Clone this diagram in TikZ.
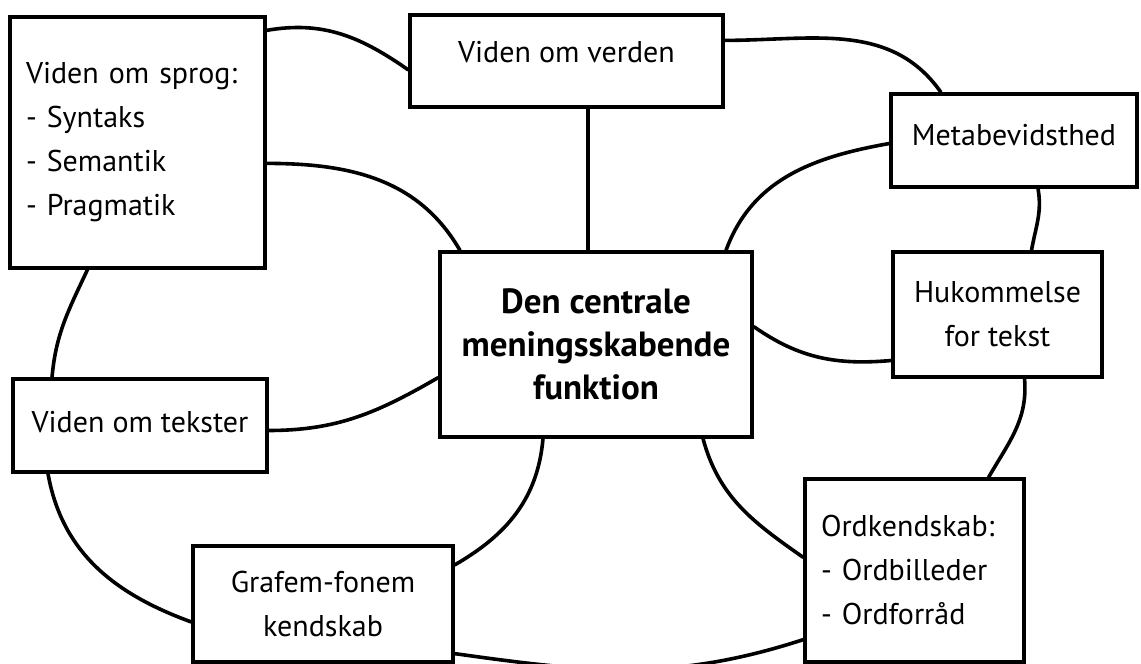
\documentclass[tikz,border=0pt]{standalone}
\usepackage{fontspec}
\setmainfont{PT Sans}
\begin{document}
\begin{tikzpicture}[x=1pt,y=1pt,
  box/.style={draw, line width=3.2pt, inner sep=0pt, font=\fontsize{30}{44}\selectfont},
  link/.style={line width=3.6pt}]
\useasboundingbox (0,0) rectangle (1141,664);

\node[box, minimum width=255, minimum height=251, text width=223pt, align=left] (sprog) at (137.5,521.5)
  {Viden om sprog:\\- Syntaks\\- Semantik\\- Pragmatik};
\node[box, minimum width=313, minimum height=92, text depth=19pt] (verden) at (566.5,603) {Viden om verden};
\node[box, minimum width=246, minimum height=93, text depth=12pt] (meta) at (1014,523.5) {Metabevidsthed};
\node[box, minimum width=209, minimum height=125, align=center] (huk) at (997.5,349.5) {Hukommelse\\for tekst};
\node[box, minimum width=312, minimum height=185, align=center, font=\bfseries\fontsize{35}{43}\selectfont] (central) at (596,319.5)
  {Den centrale\\meningsskabende\\funktion};
\node[box, minimum width=254, minimum height=93, text depth=8pt] (tekster) at (140,238.5) {Viden om tekster};
\node[box, minimum width=260, minimum height=116, align=center] (graf) at (323,60) {Grafem-fonem\\kendskab};
\node[box, minimum width=219, minimum height=183, text width=187pt, align=left] (ord) at (914.5,93.5)
  {Ordkendskab:\\- Ordbilleder\\- Ordforråd};

\draw[link] ([yshift=-15pt]sprog.north east) to[out=10,in=145] ([yshift=-9pt]verden.west);
\draw[link] ([yshift=-27pt]verden.north east) to[out=0,in=125] ([xshift=-73pt]meta.north);
\draw[link] ([xshift=24pt]meta.south) to[out=-80,in=80] ([xshift=34pt]huk.north);
\draw[link] ([xshift=27pt]huk.south) to[out=-85,in=60] ([xshift=74pt]ord.north);
\draw[link] ([yshift=24pt]ord.south west) to[out=198,in=-8] ([yshift=10pt]graf.south east);
\draw[link] ([yshift=-18pt]graf.west) to[out=160,in=-80] ([xshift=-92pt]tekster.south);
\draw[link] ([xshift=-88pt]tekster.north) to[out=85,in=-115] ([xshift=-50pt]sprog.south);

\draw[link] ([yshift=-148pt]sprog.north east) to[out=0,in=120] ([xshift=-136pt]central.north);
\draw[link] ([yshift=-3pt]meta.west) to[out=190,in=70] ([xshift=130pt]central.north);
\draw[link] ([yshift=18pt]central.east) to[out=-35,in=185] ([yshift=-46pt]huk.west);
\draw[link] ([xshift=107pt]central.south) to[out=-75,in=145] ([yshift=13pt]ord.west);
\draw[link] ([xshift=-53pt]central.south) to[out=-95,in=30] ([yshift=39pt]graf.east);
\draw[link] ([yshift=-5pt]tekster.east) to[out=0,in=210] ([yshift=-33pt]central.west);
\draw[link] ([xshift=-8pt]central.north) -- ([xshift=-8pt]central.north |- verden.south);
\end{tikzpicture}
\end{document}
